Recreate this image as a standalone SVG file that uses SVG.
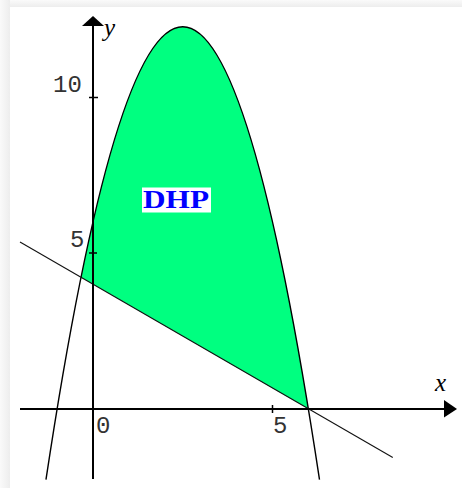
<svg xmlns="http://www.w3.org/2000/svg" width="462" height="488" viewBox="0 0 462 488">
  <defs>
    <linearGradient id="shadeTop" x1="0" y1="0" x2="0" y2="1">
      <stop offset="0" stop-color="#fafafa"/>
      <stop offset="1" stop-color="#ededed"/>
    </linearGradient>
    <linearGradient id="shadeLeft" x1="0" y1="0" x2="1" y2="0">
      <stop offset="0" stop-color="#fafafa"/>
      <stop offset="1" stop-color="#ededed"/>
    </linearGradient>
    <style>
      .axis { stroke: #000; stroke-width: 2; fill: none; }
      .tick { stroke: #000; stroke-width: 1.5; fill: none; }
      .curve { stroke: #000; stroke-width: 1.4; fill: none; }
      .line { stroke: #111; stroke-width: 1.1; fill: none; }
      .num { font-family: "Liberation Mono", "DejaVu Sans Mono", monospace; font-size: 24px; fill: #333; }
      .var { font-family: "Liberation Serif", "DejaVu Serif", serif; font-style: italic; font-size: 25px; fill: #000; }
      .dhp { font-family: "Liberation Serif", "DejaVu Serif", serif; font-weight: bold; font-size: 26px; fill: #0000ff; }
    </style>
  </defs>
  <rect x="0" y="0" width="462" height="488" fill="#ffffff"/>
  <rect x="0" y="0" width="462" height="7" fill="url(#shadeTop)"/>
  <rect x="0" y="0" width="10" height="488" fill="url(#shadeLeft)"/>

  <g id="region">
    <path d="M81.03,277.27 Q194.72,-282.6 308.4,409 Z" fill="#00ff80" stroke="none"/>
  </g>

  <g id="connectors">
    <path id="parabola" class="curve" d="M45.97,479.7 Q182.75,-426.2 319.5,479.7"/>
    <path id="line" class="line" d="M20,241.9 L392.8,457.5"/>
  </g>

  <g id="axes">
    <line class="axis" x1="20" y1="409" x2="446" y2="409"/>
    <polygon points="444,400 457,409 444,417.5" fill="#000"/>
    <line class="axis" x1="93" y1="479" x2="93" y2="25"/>
    <polygon points="82,26 93,16 104,26" fill="#000"/>
    <line class="tick" x1="89" y1="97.5" x2="98" y2="97.5"/>
    <line class="tick" x1="89" y1="253" x2="97" y2="253"/>
    <line class="tick" x1="272.5" y1="405" x2="272.5" y2="413"/>
  </g>

  <g id="labels">
    <text class="var" x="104" y="36">y</text>
    <text class="var" x="435" y="391">x</text>
    <text class="num" x="53" y="92">10</text>
    <text class="num" x="70" y="247">5</text>
    <text class="num" x="96" y="433">0</text>
    <text class="num" x="273" y="433">5</text>
  </g>

  <g id="dhp">
    <rect x="142" y="187.5" width="69" height="25" fill="#ffffff"/>
    <text class="dhp" x="143" y="207.5" textLength="66" lengthAdjust="spacingAndGlyphs">DHP</text>
  </g>
</svg>
